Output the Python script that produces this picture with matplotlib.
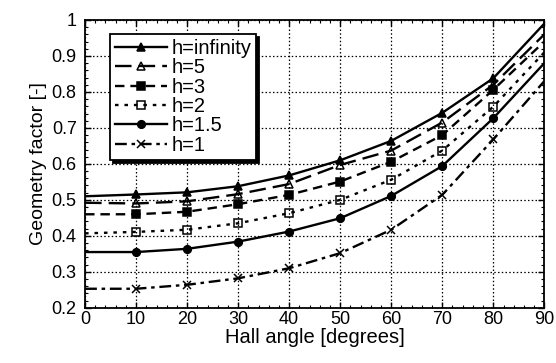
import matplotlib
matplotlib.use("Agg")
import matplotlib.pyplot as plt
from matplotlib.ticker import MultipleLocator, FuncFormatter

plt.rcParams['font.family'] = ['Liberation Sans', 'DejaVu Sans']

angles = [0, 10, 20, 30, 40, 50, 60, 70, 80, 90]
g_inf = [0.510, 0.515, 0.521, 0.538, 0.568, 0.610, 0.664, 0.742, 0.838, 0.99]
g_5   = [0.492, 0.490, 0.496, 0.516, 0.544, 0.597, 0.637, 0.715, 0.820, 0.96]
g_3   = [0.460, 0.460, 0.467, 0.488, 0.514, 0.551, 0.606, 0.680, 0.806, 0.94]
g_2   = [0.407, 0.411, 0.417, 0.435, 0.463, 0.500, 0.556, 0.637, 0.759, 0.91]
g_15  = [0.355, 0.355, 0.364, 0.384, 0.412, 0.449, 0.511, 0.594, 0.727, 0.88]
g_1   = [0.253, 0.253, 0.264, 0.282, 0.310, 0.352, 0.417, 0.514, 0.668, 0.83]

series = [
    ("h=infinity", g_inf, '-', '^', 'k'),
    ("h=5", g_5, (0, (7, 3)), '^', 'none'),
    ("h=3", g_3, (0, (4, 2.5)), 's', 'k'),
    ("h=2", g_2, (0, (1.5, 2.5)), 's', 'none'),
    ("h=1.5", g_15, '-', 'o', 'k'),
    ("h=1", g_1, (0, (5, 2, 1.5, 2)), 'x', 'k'),
]

fig = plt.figure(figsize=(5.56, 3.63), dpi=100)
ax = fig.add_axes([0.153, 0.152, 0.826, 0.793])

for label, vals, ls, mk, mfc in series:
    ax.plot(angles, vals, linestyle=ls, color='k', linewidth=1.7,
            marker=mk, markersize=5.5, markerfacecolor=mfc,
            markeredgecolor='k', markeredgewidth=1.1,
            markevery=slice(1, 9), label=label)

ax.set_xlim(0, 90)
ax.set_ylim(0.2, 1.0)
ax.xaxis.set_major_locator(MultipleLocator(10))
ax.xaxis.set_minor_locator(MultipleLocator(2))
ax.yaxis.set_major_locator(MultipleLocator(0.1))
ax.yaxis.set_minor_locator(MultipleLocator(0.02))
ax.yaxis.set_major_formatter(FuncFormatter(lambda v, p: f"{v:g}"))
ax.grid(True, which='major', color='k', linestyle=(0, (1.2, 1.8)), linewidth=0.9)
ax.tick_params(which='both', direction='in', top=True, right=True, labelsize=13, colors='k')
ax.tick_params(which='major', length=4, width=1)
ax.tick_params(which='minor', length=2, width=0.8)
ax.tick_params(axis='y', pad=6)
ax.tick_params(axis='x', pad=2)
for s in ax.spines.values():
    s.set_linewidth(1.3)

ax.set_xlabel("Hall angle [degrees]", fontsize=14.5, labelpad=0)
ax.set_ylabel("Geometry factor [-]", fontsize=14, labelpad=3)

leg = ax.legend(loc='upper left', bbox_to_anchor=(0.054, 0.952), fontsize=14.5,
                frameon=True, fancybox=False, edgecolor='k', framealpha=1,
                handlelength=2.6, handletextpad=0.2, labelspacing=0.02,
                borderpad=0.25, borderaxespad=0,
                shadow={'color': 'k', 'alpha': 1})
leg.get_frame().set_linewidth(1.3)

fig.savefig("out.png", dpi=100)
